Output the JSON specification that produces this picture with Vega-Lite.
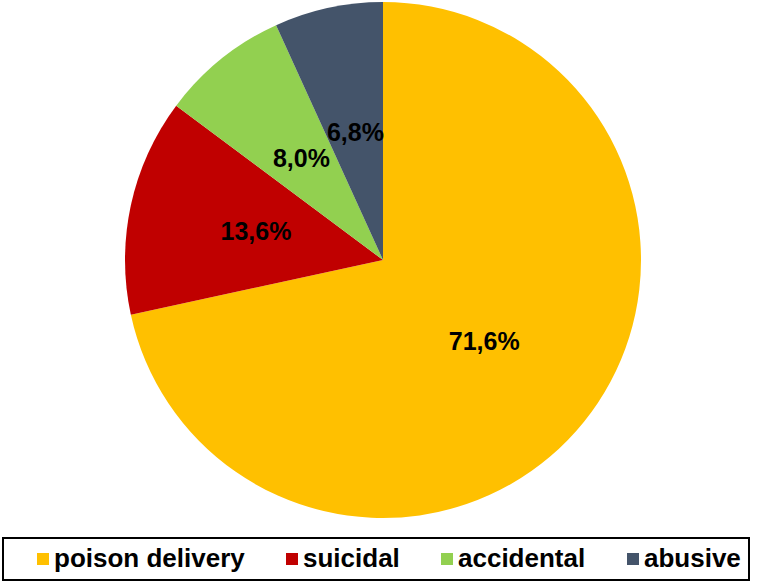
{
  "$schema": "https://vega.github.io/schema/vega-lite/v6.json",
  "width": 766,
  "height": 520,
  "autosize": {"type": "none"},
  "padding": {"left": 0, "top": 0, "right": 0, "bottom": 61},
  "background": "white",
  "view": {"stroke": null},
  "data": {
    "values": [
      {"cause": "poison delivery", "pct": 71.6, "label": "71,6%", "order": 1},
      {"cause": "suicidal", "pct": 13.6, "label": "13,6%", "order": 2},
      {"cause": "accidental", "pct": 8.0, "label": "8,0%", "order": 3},
      {"cause": "abusive", "pct": 6.8, "label": "6,8%", "order": 4}
    ]
  },
  "encoding": {
    "theta": {"field": "pct", "type": "quantitative", "stack": true},
    "order": {"field": "order", "type": "quantitative"}
  },
  "layer": [
    {
      "mark": {"type": "arc", "outerRadius": 258},
      "encoding": {
        "color": {
          "field": "cause",
          "type": "nominal",
          "scale": {
            "domain": ["poison delivery", "suicidal", "accidental", "abusive"],
            "range": ["#FFC000", "#C00000", "#92D050", "#44546A"]
          },
          "legend": {
            "orient": "none",
            "direction": "horizontal",
            "columns": 4,
            "legendX": 3,
            "legendY": 538,
            "title": " ",
            "titleOrient": "left",
            "titleFontSize": 4,
            "titlePadding": 19,
            "symbolType": "square",
            "symbolSize": 144,
            "symbolStrokeWidth": 0,
            "labelFontSize": 26,
            "labelFont": "Liberation Sans",
            "labelFontWeight": "bold",
            "labelColor": "black",
            "labelOffset": -2,
            "labelLimit": 400,
            "columnPadding": 34,
            "padding": 8,
            "strokeColor": "black",
            "encode": {"legend": {"update": {"strokeWidth": {"value": 2}}}}
          }
        }
      }
    },
    {
      "mark": {
        "type": "text",
        "radius": 130,
        "fontSize": 25,
        "fontWeight": "bold",
        "font": "Liberation Sans",
        "color": "black"
      },
      "encoding": {"text": {"field": "label", "type": "nominal"}}
    }
  ]
}
